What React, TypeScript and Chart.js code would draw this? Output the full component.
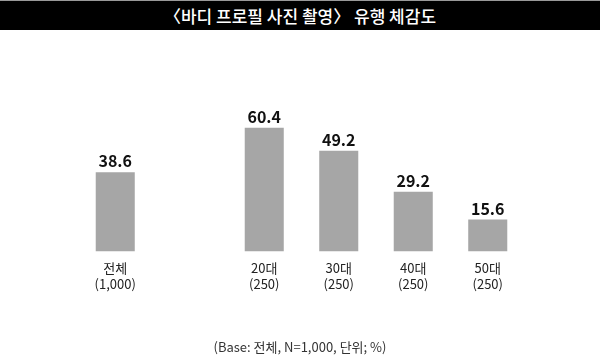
import React, { useEffect, useRef } from "react";
import { Chart, registerables } from "chart.js";

Chart.register(...registerables);

const title = "〈바디 프로필 사진 촬영〉 유행 체감도";
const categories = ["전체", "", "20대", "30대", "40대", "50대"];
const sampleSizes = ["(1,000)", "", "(250)", "(250)", "(250)", "(250)"];
const values: (number | null)[] = [38.6, null, 60.4, 49.2, 29.2, 15.6];
const footnote = "(Base: 전체, N=1,000, 단위; %)";

const FONT = "'Noto Sans CJK KR', 'Noto Sans', sans-serif";

const valueLabels = {
  id: "valueLabels",
  afterDatasetsDraw(chart: any) {
    const ctx = chart.ctx;
    const meta = chart.getDatasetMeta(0);
    ctx.save();
    ctx.font = `bold 16px ${FONT}`;
    ctx.fillStyle = "#111";
    ctx.textAlign = "center";
    ctx.textBaseline = "bottom";
    meta.data.forEach((el: any, i: number) => {
      const v = values[i];
      if (v == null) return;
      ctx.fillText(v.toFixed(1), el.x, el.y - 3);
    });
    ctx.restore();
  },
};

export default function App() {
  const ref = useRef<HTMLCanvasElement>(null);
  useEffect(() => {
    if (!ref.current) return;
    const chart = new Chart(ref.current, {
      type: "bar",
      data: {
        labels: categories.map((c, i) => [c, sampleSizes[i]]),
        datasets: [
          {
            data: values,
            backgroundColor: "#a6a6a6",
            barPercentage: 0.524,
            categoryPercentage: 1,
          },
        ],
      },
      options: {
        animation: false,
        responsive: false,
        maintainAspectRatio: false,
        layout: { padding: { left: 78, right: 75, top: 108, bottom: 62 } },
        plugins: { legend: { display: false }, tooltip: { enabled: false } },
        scales: {
          y: { display: false, min: 0, max: 70 },
          x: {
            grid: { display: false, drawTicks: false },
            border: { display: false },
            ticks: {
              padding: 8,
              color: "#222",
              font: { family: FONT, size: 13, lineHeight: 1.25 },
              maxRotation: 0,
              autoSkip: false,
            },
          },
        },
      },
      plugins: [valueLabels],
    });
    return () => chart.destroy();
  }, []);

  return (
    <div style={{ position: "fixed", left: 0, top: 0, width: 600, height: 362, background: "#fff", overflow: "hidden" }}>
      <canvas ref={ref} width={600} height={362} style={{ position: "absolute", left: 0, top: 0 }} />
      <div
        style={{
          position: "absolute",
          left: 0,
          top: 0,
          width: 600,
          height: 29,
          borderTop: "1px solid #999",
          background: "#000",
          color: "#fff",
          fontFamily: FONT,
          fontSize: 17,
          fontWeight: 500,
          lineHeight: "29px",
          textAlign: "center",
        }}
      >
        {title}
      </div>
      <div
        style={{
          position: "absolute",
          left: 0,
          top: 338,
          width: 600,
          textAlign: "center",
          fontFamily: FONT,
          fontSize: 13,
          color: "#333",
          lineHeight: "18px",
        }}
      >
        {footnote}
      </div>
    </div>
  );
}
